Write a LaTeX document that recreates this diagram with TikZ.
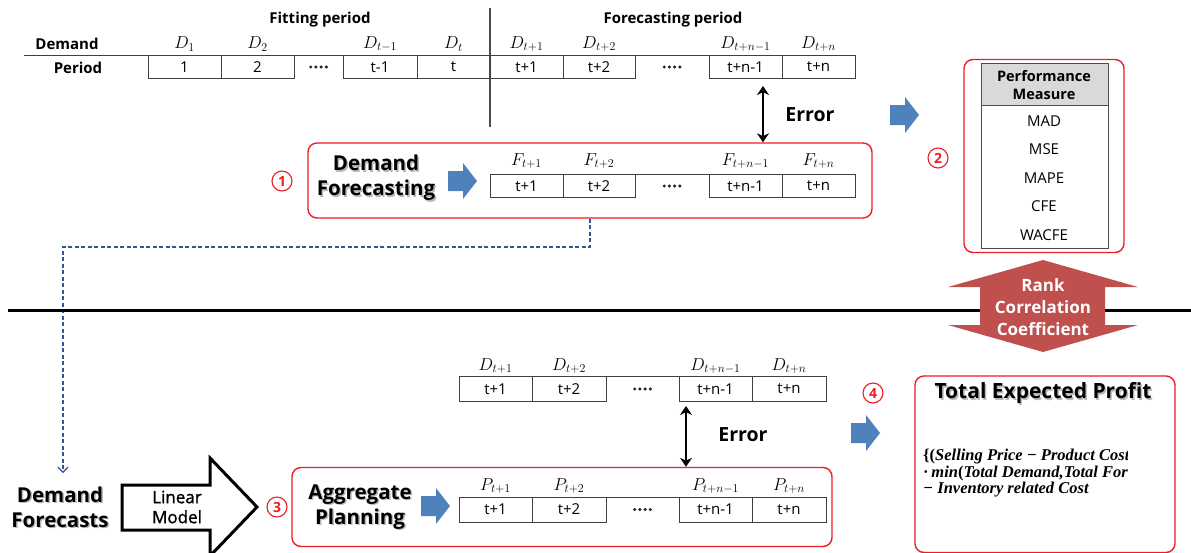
\documentclass[tikz,border=0pt]{standalone}
\usepackage[no-math]{fontspec}
\setmainfont{Open Sans}
\newfontfamily\formulafont{Liberation Serif}
\newfontfamily\semiboldfont[FakeBold=1.3]{Open Sans}
\usetikzlibrary{arrows.meta,calc}
\definecolor{boxred}{RGB}{238,28,36}
\definecolor{arrowblue}{RGB}{79,129,189}
\definecolor{dashblue}{RGB}{47,85,151}
\definecolor{rankred}{RGB}{192,80,77}
\definecolor{headgray}{RGB}{217,217,217}

\tikzset{
  gridline/.style={draw=black!75, line width=0.8pt},
  celltext/.style={font=\fontsize{15}{17}\selectfont, inner sep=0pt},
  mathlbl/.style={font=\fontsize{16.5}{18}\selectfont, inner sep=0pt},
  boldlbl/.style={font=\fontsize{15}{17}\selectfont\bfseries, inner sep=0pt},
  redbox/.style={draw=boxred, line width=1.4pt, rounded corners=9pt},
  circnum/.style={circle, draw=boxred, line width=1.1pt, text=boxred, inner sep=0pt,
    minimum size=20pt, font=\fontsize{14}{14}\selectfont\bfseries},
  bigtitle/.style={font=\fontsize{20.5}{25}\selectfont\bfseries, align=center, inner sep=0pt},
  shadowcopy/.style={bigtitle, text=black!45, opacity=0.6},
  errlbl/.style={font=\fontsize{19.5}{21}\selectfont\bfseries, inner sep=0pt},
  errarrow/.style={line width=2.8pt, {Stealth[length=9pt,width=12pt]}-{Stealth[length=9pt,width=12pt]}},
  perfitem/.style={font=\fontsize{15}{17}\selectfont, inner sep=0pt},
  formula/.style={font=\fontsize{16.5}{18}\selectfont\formulafont\bfseries\itshape, anchor=west, inner sep=0pt},
  blockarr/.pic={\fill[arrowblue] (0,-10) -- (15,-10) -- (15,-18) -- (29,0) -- (15,18) -- (15,10) -- (0,10) -- cycle;},
  fourdots/.pic={\foreach \k in {-1.5,-0.5,0.5,1.5} \fill[black!85] (\k*5.2,0) circle (1.7pt);}
}

\begin{document}
\begin{tikzpicture}[x=1pt,y=-1pt]
\useasboundingbox (0,0) rectangle (1191,552);
\clip (0,0) rectangle (1191,552);
\fill[white] (0,0) rectangle (1191,552);

% ---------------- upper part: demand history and forecast ----------------
\node[boldlbl] (fitting) at (320,20) {Fitting period};
\node[boldlbl] (forecasting) at (673,20) {Forecasting period};
\node[boldlbl] (demandlbl) at (67,44) {Demand};
\node[boldlbl] (periodlbl) at (78,68) {Period};
\draw[black!70, line width=1.1pt] (490,8) -- (490,127);

\draw[gridline] (24,55) -- (855,55);
\foreach \l/\r/\t/\m [count=\i] in {148/221/1/D_1, 221/294/2/D_2, 343/417/t-1/D_{t-1}, 417/490/t/D_t,
    490/563/t+1/D_{t+1}, 563/635/t+2/D_{t+2}, 709/782/t+n-1/D_{t+n-1}, 782/855/t+n/D_{t+n}} {
  \draw[gridline] (\l,55) rectangle (\r,78);
  \node[celltext] (top\i) at ({(\l+\r)/2},67) {\t};
  \node[mathlbl] (topD\i) at ({(\l+\r)/2},44) {$\m$};
}
\pic at (318.5,67) {fourdots};
\pic at (672,67) {fourdots};

% error between actual and forecast
\coordinate (errA) at (763,86);
\node[errlbl] (err1) at (810,115) {Error};

% box 1: demand forecasting
\node[redbox, minimum width=564pt, minimum height=75pt, inner sep=0pt] (fcbox) at (590,180.5) {};
\draw[errarrow] (errA) -- (errA |- fcbox.north);
\node[circnum] (n1) at (282,181) {1};
\node[shadowcopy] at (377.5,179.5) {Demand\\Forecasting};
\node[bigtitle] (dftitle) at (376,178) {Demand\\Forecasting};
\pic at (448,181) {blockarr};
\foreach \l/\r/\t/\m [count=\i] in {490/563/t+1/F_{t+1}, 563/635/t+2/F_{t+2}, 709/782/t+n-1/F_{t+n-1}, 782/855/t+n/F_{t+n}} {
  \draw[gridline] (\l,174) rectangle (\r,197);
  \node[celltext] (fc\i) at ({(\l+\r)/2},186) {\t};
  \node[mathlbl] (fcF\i) at ({(\l+\r)/2},161) {$\m$};
}
\draw[gridline] (635,174) -- (709,174);
\pic at (672,186) {fourdots};

% arrow to performance measures
\pic at (890,115) {blockarr};

% box 2: performance measures
\node[redbox, minimum width=160pt, minimum height=193pt, inner sep=0pt] (perfbox) at (1044,156) {};
\node[circnum] (n2) at (938,158) {2};
\fill[headgray] (981,63) rectangle (1108,105);
\draw[black!70, line width=0.9pt] (981,63) rectangle (1108,248);
\draw[black!70, line width=0.9pt] (981,105) -- (1108,105);
\node[boldlbl, align=center, font=\fontsize{14.5}{18}\selectfont\bfseries] (perfhead) at (1044,85) {Performance\\Measure};
\node[perfitem] (mad) at (1044,121) {MAD};
\node[perfitem] (mse) at (1044,149) {MSE};
\node[perfitem] (mape) at (1044,178) {MAPE};
\node[perfitem] (cfe) at (1044,206) {CFE};
\node[perfitem] (wacfe) at (1044,235) {WACFE};

% dashed link from the forecasts down to the planning stage
\coordinate (dfin) at (63,473);
\draw[dashblue, line width=1.2pt, dash pattern=on 4pt off 2.5pt, -{Straight Barb[length=5pt,width=10pt]}]
  (fcbox.south) |- (63,247) -- (dfin);

% ---------------- separator and rank correlation ----------------
\draw[black, line width=3pt] (8,310) -- (1191,310);
\fill[rankred] (1043,260) -- (1138,287) -- (1105,287) -- (1105,325) -- (1138,325) -- (1043,352)
  -- (948,325) -- (980,325) -- (980,287) -- (948,287) -- cycle;
\node[font=\fontsize{17}{22}\selectfont\bfseries, text=white, align=center, inner sep=0pt] (rank) at (1043,307)
  {Rank\\Correlation\\Coefficient};

% ---------------- lower part: aggregate planning ----------------
\foreach \l/\r/\t/\m [count=\i] in {459/532/t+1/D_{t+1}, 532/606/t+2/D_{t+2}, 679/752/t+n-1/D_{t+n-1}, 752/826/t+n/D_{t+n}} {
  \draw[gridline] (\l,376) rectangle (\r,401);
  \node[celltext] (ad\i) at ({(\l+\r)/2},389) {\t};
  \node[mathlbl] (adD\i) at ({(\l+\r)/2},366) {$\m$};
}
\draw[gridline] (606,376) -- (679,376);
\pic at (642.5,389) {fourdots};

\coordinate (errB) at (686,406);
\node[errlbl] (err2) at (743,435) {Error};

% box 3: aggregate planning
\node[redbox, minimum width=540pt, minimum height=79pt, inner sep=0pt] (apbox) at (562,507) {};
\draw[errarrow] (errB) -- (errB |- apbox.north);
\node[circnum] (n3) at (277,507) {3};
\node[shadowcopy] at (361.5,508.5) {Aggregate\\Planning};
\node[bigtitle] (aptitle) at (360,507) {Aggregate\\Planning};
\pic at (421,506) {blockarr};
\foreach \l/\r/\t/\m [count=\i] in {459/532/t+1/P_{t+1}, 532/606/t+2/P_{t+2}, 679/752/t+n-1/P_{t+n-1}, 752/826/t+n/P_{t+n}} {
  \draw[gridline] (\l,497) rectangle (\r,522);
  \node[celltext] (ap\i) at ({(\l+\r)/2},509.5) {\t};
  \node[mathlbl] (apP\i) at ({(\l+\r)/2},486) {$\m$};
}
\draw[gridline] (606,497) -- (679,497);
\pic at (642.5,509.5) {fourdots};

% demand forecasts fed through the linear model
\node[shadowcopy] at (61.5,508.5) {Demand\\Forecasts};
\node[bigtitle] (dfc) at (60,507) {Demand\\Forecasts};
\draw[black, line width=3pt, line join=miter] (122,485) -- (210,485) -- (210,458) -- (257,507)
  -- (210,556) -- (210,530) -- (122,530) -- cycle;
\node[font=\fontsize{17}{20}\selectfont\semiboldfont, align=center, inner sep=0pt] (linmodel) at (177,507) {Linear\\Model};

% box 4: total expected profit
\node[circnum] (n4) at (873,393) {4};
\pic at (851,433) {blockarr};
\draw[redbox] (915,376) rectangle (1175,552.5);
\node[shadowcopy, font=\fontsize{21}{25}\selectfont\bfseries] at (1044.5,394.5) {Total Expected Profit};
\node[bigtitle, font=\fontsize{21}{25}\selectfont\bfseries] (profit) at (1043,393) {Total Expected Profit};
\begin{scope}
  \clip (916,440) rectangle (1127,505);
  \node[formula] (f1) at (923,457) {{\upshape\{(}Selling Price − Product Cost)};
  \node[formula] (f2) at (923,474) {{\upshape·}\,min{\upshape(}Total Demand,Total Forecast)};
  \node[formula] (f3) at (923,490) {− Inventory related Cost};
\end{scope}
\end{tikzpicture}
\end{document}
